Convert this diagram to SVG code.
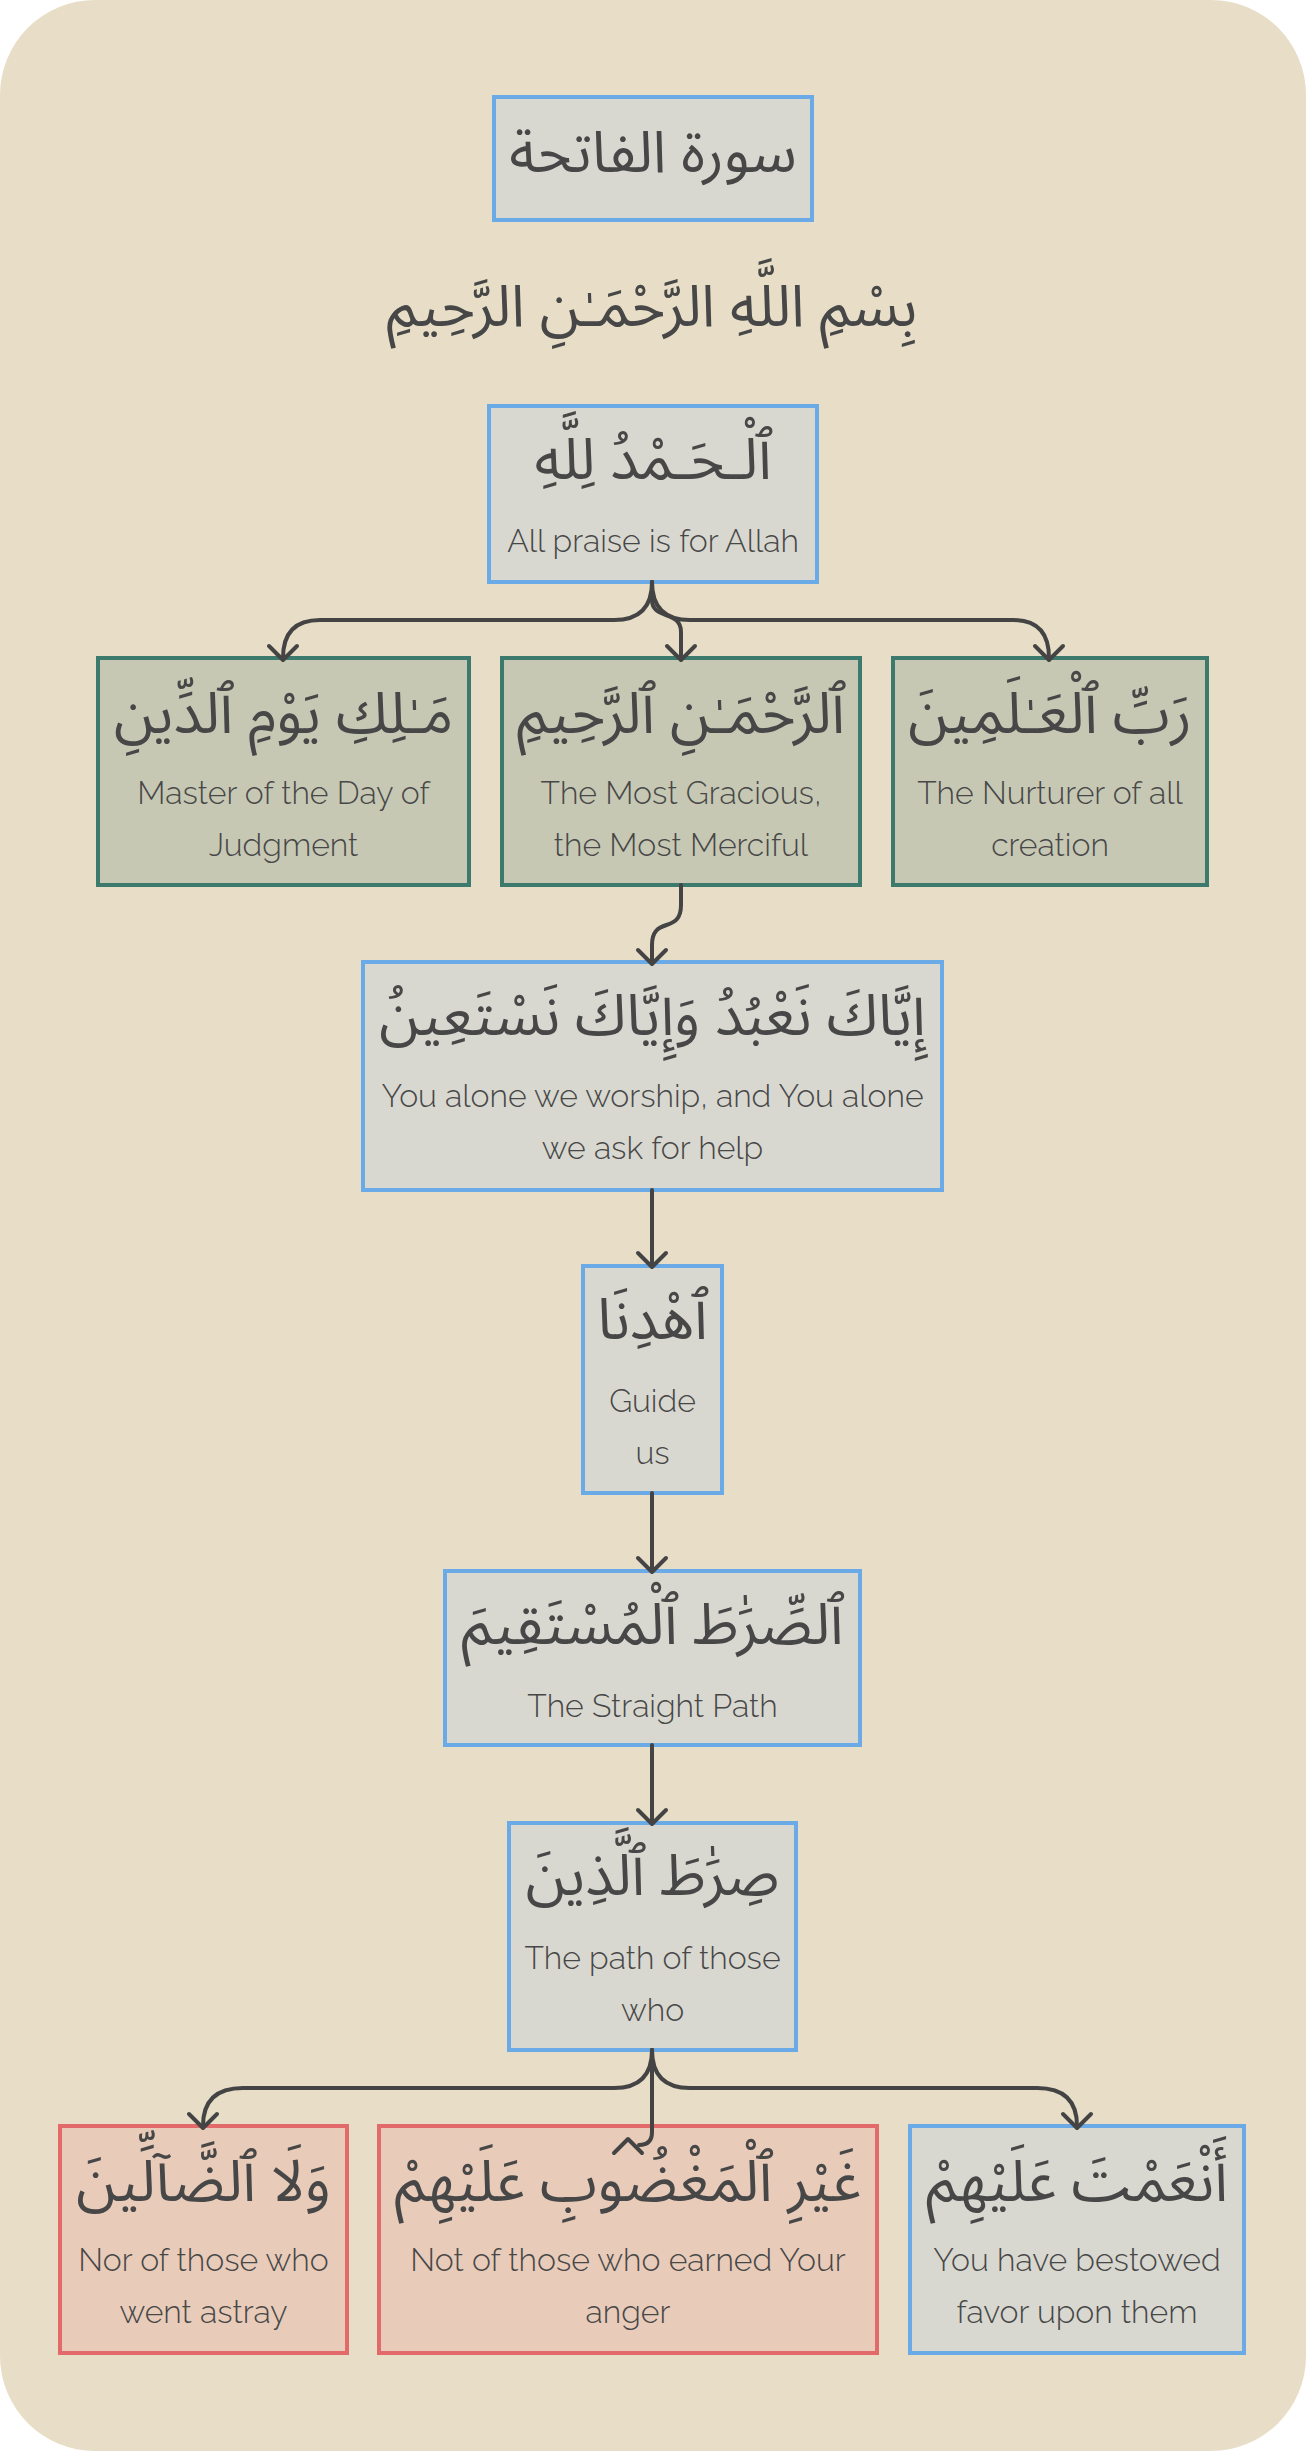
<svg xmlns="http://www.w3.org/2000/svg" width="1306" height="2451" viewBox="0 0 1306 2451">
<style>
.bg{fill:#E8DEC8}
.blue{fill:#D8D8D0;stroke:#6AAAE6;stroke-width:4}
.green{fill:#C6C8B4;stroke:#3D7A6E;stroke-width:4}
.red{fill:#E8CBB9;stroke:#E36A6A;stroke-width:4}
.ar{font-family:'Noto Sans Arabic','Noto Sans','DejaVu Sans',sans-serif;font-size:58px;fill:#474747;text-anchor:middle}
.en{font-family:Raleway,Lato,'Open Sans',sans-serif;font-size:32px;font-weight:300;fill:#474747;text-anchor:middle}
.c{fill:none;stroke:#444;stroke-width:4;stroke-linecap:round;stroke-linejoin:round}
</style>
<rect width="1306" height="2451" fill="#ffffff"/>
<rect class="bg" x="0" y="0" width="1306" height="2451" rx="95" ry="95"/>

<g id="title">
<rect class="blue" x="494" y="97" width="318" height="123"/>
<text class="ar" x="653" y="172">سورة الفاتحة</text>
</g>

<g id="bismillah">
<text class="ar" x="652" y="326">بِسْمِ اللَّهِ الرَّحْمَـٰنِ الرَّحِيمِ</text>
</g>

<g id="hamd">
<rect class="blue" x="489" y="406" width="328" height="176"/>
<text class="ar" x="653" y="479">ٱلْـحَـمْدُ لِلَّهِ</text>
<text class="en" x="653" y="552">All praise is for Allah</text>
</g>

<g id="malik">
<rect class="green" x="98" y="658" width="371" height="227"/>
<text class="ar" x="283.5" y="733">مَـٰلِكِ يَوْمِ ٱلدِّينِ</text>
<text class="en" x="283.5" y="804">Master of the Day of</text>
<text class="en" x="283.5" y="856">Judgment</text>
</g>

<g id="rahman">
<rect class="green" x="502" y="658" width="358" height="227"/>
<text class="ar" x="681" y="733">ٱلرَّحْمَـٰنِ ٱلرَّحِيمِ</text>
<text class="en" x="681" y="804">The Most Gracious,</text>
<text class="en" x="681" y="856">the Most Merciful</text>
</g>

<g id="rabb">
<rect class="green" x="893" y="658" width="314" height="227"/>
<text class="ar" x="1050" y="733">رَبِّ ٱلْعَـٰلَمِينَ</text>
<text class="en" x="1050" y="804">The Nurturer of all</text>
<text class="en" x="1050" y="856">creation</text>
</g>

<g id="iyyaka">
<rect class="blue" x="363" y="962" width="579" height="228"/>
<text class="ar" x="652.5" y="1035">إِيَّاكَ نَعْبُدُ وَإِيَّاكَ نَسْتَعِينُ</text>
<text class="en" x="652.5" y="1107">You alone we worship, and You alone</text>
<text class="en" x="652.5" y="1159">we ask for help</text>
</g>

<g id="ihdina">
<rect class="blue" x="583" y="1266" width="139" height="227"/>
<text class="ar" x="652.5" y="1339">ٱهْدِنَا</text>
<text class="en" x="652.5" y="1412">Guide</text>
<text class="en" x="652.5" y="1464">us</text>
</g>

<g id="mustaqim">
<rect class="blue" x="445" y="1571" width="415" height="174"/>
<text class="ar" x="652.5" y="1644">ٱلصِّرَٰطَ ٱلْمُسْتَقِيمَ</text>
<text class="en" x="652.5" y="1717">The Straight Path</text>
</g>

<g id="alladhina">
<rect class="blue" x="509" y="1823" width="287" height="227"/>
<text class="ar" x="652.5" y="1895">صِرَٰطَ ٱلَّذِينَ</text>
<text class="en" x="652.5" y="1969">The path of those</text>
<text class="en" x="652.5" y="2021">who</text>
</g>

<g id="dallin">
<rect class="red" x="60" y="2126" width="287" height="227"/>
<text class="ar" x="203.5" y="2201">وَلَا ٱلضَّآلِّينَ</text>
<text class="en" x="203.5" y="2271">Nor of those who</text>
<text class="en" x="203.5" y="2323">went astray</text>
</g>

<g id="ghayr">
<rect class="red" x="379" y="2126" width="498" height="227"/>
<text class="ar" x="628" y="2201">غَيْرِ ٱلْمَغْضُوبِ عَلَيْهِمْ</text>
<text class="en" x="628" y="2271">Not of those who earned Your</text>
<text class="en" x="628" y="2323">anger</text>
</g>

<g id="anamta">
<rect class="blue" x="910" y="2126" width="334" height="227"/>
<text class="ar" x="1077" y="2201">أَنْعَمْتَ عَلَيْهِمْ</text>
<text class="en" x="1077" y="2271">You have bestowed</text>
<text class="en" x="1077" y="2323">favor upon them</text>
</g>

<g id="connectors">
<path class="c" d="M652,582 Q652,620 614,620 L320,620 Q283,620 283,658"/>
<path class="c" d="M269,646 L283,660 L297,646"/>
<path class="c" d="M652,582 Q652,620 690,620 L1013,620 Q1049,620 1049,658"/>
<path class="c" d="M1035,646 L1049,660 L1063,646"/>
<path class="c" d="M652,582 L652,600 C652,620 681,610 681,632 L681,659"/>
<path class="c" d="M667,646 L681,660 L695,646"/>
<path class="c" d="M681,885 L681,905 C681,935 652,915 652,945 L652,963"/>
<path class="c" d="M638,950 L652,964 L666,950"/>
<path class="c" d="M652,1190 L652,1266"/>
<path class="c" d="M638,1253 L652,1267 L666,1253"/>
<path class="c" d="M652,1493 L652,1571"/>
<path class="c" d="M638,1558 L652,1572 L666,1558"/>
<path class="c" d="M652,1745 L652,1823"/>
<path class="c" d="M638,1810 L652,1824 L666,1810"/>
<path class="c" d="M652,2050 Q652,2088 614,2088 L243,2088 Q203,2088 203,2126"/>
<path class="c" d="M189,2114 L203,2128 L217,2114"/>
<path class="c" d="M652,2050 Q652,2088 690,2088 L1037,2088 Q1077,2088 1077,2126"/>
<path class="c" d="M1063,2114 L1077,2128 L1091,2114"/>
<path class="c" d="M652,2050 L652,2132 Q652,2145 639,2145"/>
<path class="c" d="M614,2153 L628,2139 L642,2153"/>
</g>
</svg>
